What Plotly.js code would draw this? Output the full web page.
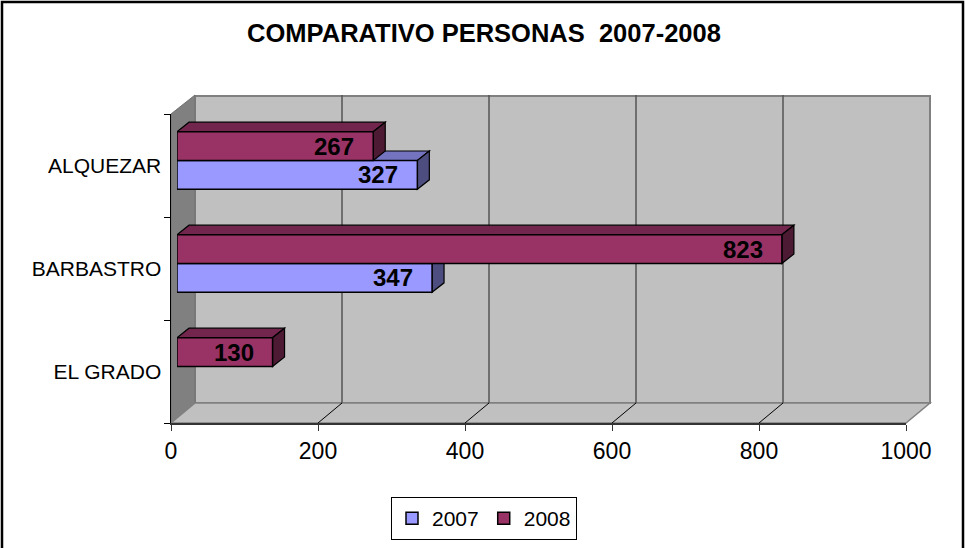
<!DOCTYPE html>
<html>
<head>
<meta charset="utf-8">
<script src="https://cdn.plot.ly/plotly-3.0.1.min.js"></script>
<style>html,body{margin:0;padding:0;background:#fff;}#chart{width:965px;height:548px;}</style>
</head>
<body>
<div id="chart"></div>
<script>
// ---- data ----
const categories = ['EL GRADO', 'BARBASTRO', 'ALQUEZAR'];   // bottom to top
const values2007 = [null, 347, 327];
const values2008 = [130, 823, 267];
const seriesNames = ['2007', '2008'];
const xTickVals = [0, 200, 400, 600, 800, 1000];
const titleText = 'COMPARATIVO PERSONAS\u00A0\u00A02007-2008';

// ---- geometry / style ----
const W = 965, H = 548;
const px = x => x / W;
const py = y => 1 - y / H;
const FONT = 'Arial, "Liberation Sans", sans-serif';
const XMAX = 1000;
// front plane (axes)
const FX0 = 171, FX1 = 906, FYB = 423, FYT = 114;
// bar plane
const BX0 = 177, BX1 = 912, BYB = 418, BYT = 109;
// back wall depth
const DX = 24, DY = 19;
const colors = ['#9999FF', '#993366'];
const topColors = ['#7373C0', '#73264D'];
const sideColors = ['#4D4D80', '#4D1A33'];
const bargap = 0.44;
const w = (1 - bargap) / 2;
const pxPerUnit = (FX1 - FX0) / XMAX;
const pxPerCat = (FYB - FYT) / categories.length;
const dxu = 12 / pxPerUnit;      // bar depth in x units
const dyu = 9.5 / pxPerCat;      // bar depth in category units

const shapes = [];
// outer border
shapes.push({type: 'rect', xref: 'paper', yref: 'paper', x0: px(2), x1: px(963), y0: py(551), y1: py(2),
  line: {color: '#000', width: 2.5}, fillcolor: 'rgba(0,0,0,0)', layer: 'below'});
// back wall
shapes.push({type: 'rect', xref: 'paper', yref: 'paper', x0: px(FX0 + DX), x1: px(FX1 + DX), y0: py(FYB - DY - 1), y1: py(FYT - DY + 1),
  fillcolor: '#C0C0C0', line: {color: '#808080', width: 2}, layer: 'below'});
// left wall
shapes.push({type: 'path', xref: 'paper', yref: 'paper', layer: 'below',
  path: `M${px(FX0)},${py(FYT)} L${px(FX0 + DX)},${py(FYT - DY)} L${px(FX0 + DX)},${py(FYB - DY - 1)} L${px(FX0)},${py(FYB)} Z`,
  fillcolor: '#808080', line: {color: '#707070', width: 1}});
// floor
shapes.push({type: 'path', xref: 'paper', yref: 'paper', layer: 'below',
  path: `M${px(FX0)},${py(FYB)} L${px(FX0 + DX)},${py(FYB - DY - 1)} L${px(FX1 + DX)},${py(FYB - DY - 1)} L${px(FX1)},${py(FYB)} Z`,
  fillcolor: '#C0C0C0', line: {color: '#808080', width: 1.5}});
// gridlines on back wall + floor diagonals
xTickVals.forEach(v => {
  if (v === 0 || v === XMAX) return;
  const xf = FX0 + v * pxPerUnit;
  shapes.push({type: 'line', xref: 'paper', yref: 'paper', layer: 'below',
    x0: px(xf + DX), x1: px(xf + DX), y0: py(FYT - DY), y1: py(FYB - DY - 1),
    line: {color: '#555555', width: 1.5}});
  shapes.push({type: 'line', xref: 'paper', yref: 'paper', layer: 'below',
    x0: px(xf), x1: px(xf + DX), y0: py(FYB), y1: py(FYB - DY - 1),
    line: {color: '#000', width: 1}});
});
// 3D top and side faces of bars (data coordinates of the bar subplot)
[values2007, values2008].forEach((vals, s) => {
  vals.forEach((v, i) => {
    if (v === null || v === undefined) return;
    const a = s === 0 ? i - w : i;
    const b = a + w;
    shapes.push({type: 'path', xref: 'x', yref: 'y', layer: 'below',
      path: `M0,${b} L${v},${b} L${v + dxu},${b + dyu} L${dxu},${b + dyu} Z`,
      fillcolor: topColors[s], line: {color: '#000', width: 1.2}});
    shapes.push({type: 'path', xref: 'x', yref: 'y', layer: 'below',
      path: `M${v},${a} L${v},${b} L${v + dxu},${b + dyu} L${v + dxu},${a + dyu} Z`,
      fillcolor: sideColors[s], line: {color: '#000', width: 1.2}});
  });
});

// data labels
const annotations = [];
[values2007, values2008].forEach((vals, s) => {
  vals.forEach((v, i) => {
    if (v === null || v === undefined) return;
    const yc = s === 0 ? i - w / 2 : i + w / 2;
    annotations.push({xref: 'x', yref: 'y', x: v, y: yc, text: String(v), showarrow: false,
      xanchor: 'right', yanchor: 'middle', xshift: -17,
      font: {family: FONT, size: 24, color: '#000', weight: 'bold'}});
  });
});

const traces = [
  {type: 'bar', orientation: 'h', name: seriesNames[0], x: values2007, y: categories,
   marker: {color: colors[0], line: {color: '#000', width: 1.5}}, hoverinfo: 'none'},
  {type: 'bar', orientation: 'h', name: seriesNames[1], x: values2008, y: categories,
   marker: {color: colors[1], line: {color: '#000', width: 1.5}}, hoverinfo: 'none'},
  {type: 'scatter', mode: 'markers', x: categories.map(() => null), y: categories,
   xaxis: 'x2', yaxis: 'y2', showlegend: false, hoverinfo: 'skip'}
];

const layout = {
  width: W, height: H,
  margin: {l: 0, r: 0, t: 0, b: 0},
  paper_bgcolor: '#FFFFFF', plot_bgcolor: 'rgba(0,0,0,0)',
  barmode: 'group', bargap: bargap, bargroupgap: 0,
  showlegend: true,
  title: {text: titleText, x: px(484), xanchor: 'center', y: py(33), yanchor: 'middle',
    xref: 'paper', yref: 'paper',
    font: {family: FONT, size: 25.5, color: '#000', weight: 'bold'}},
  xaxis: {domain: [px(BX0), px(BX1)], range: [0, XMAX], visible: false, fixedrange: true, anchor: 'y'},
  yaxis: {domain: [py(BYB), py(BYT)], type: 'category', categoryorder: 'array', categoryarray: categories,
    range: [-0.5, categories.length - 0.5], visible: false, fixedrange: true, anchor: 'x'},
  xaxis2: {domain: [px(FX0), px(FX1)], range: [0, XMAX], anchor: 'y2',
    tickmode: 'array', tickvals: xTickVals, ticktext: xTickVals.map(String),
    ticks: 'outside', ticklen: 6, tickwidth: 1, tickcolor: '#333',
    showline: true, linecolor: '#333', linewidth: 2, showgrid: false, zeroline: false,
    tickfont: {family: FONT, size: 23, color: '#000'}, fixedrange: true},
  yaxis2: {domain: [py(FYB), py(FYT)], type: 'category', categoryorder: 'array', categoryarray: categories,
    range: [-0.5, categories.length - 0.5], anchor: 'x2', tickson: 'boundaries',
    ticks: 'outside', ticklen: 6, tickwidth: 1, tickcolor: '#000', ticklabelstandoff: 4,
    showline: true, linecolor: '#000', linewidth: 1.5, showgrid: false, zeroline: false,
    tickfont: {family: FONT, size: 21, color: '#000'}, fixedrange: true},
  legend: {orientation: 'h', x: px(484), xanchor: 'center', y: py(497), yanchor: 'top',
    bgcolor: '#FFFFFF', bordercolor: '#000', borderwidth: 1,
    font: {family: FONT, size: 21, color: '#000'}, itemwidth: 30, traceorder: 'normal'},
  shapes: shapes,
  annotations: annotations
};

Plotly.newPlot('chart', traces, layout, {displayModeBar: false, staticPlot: true});
</script>
</body>
</html>
